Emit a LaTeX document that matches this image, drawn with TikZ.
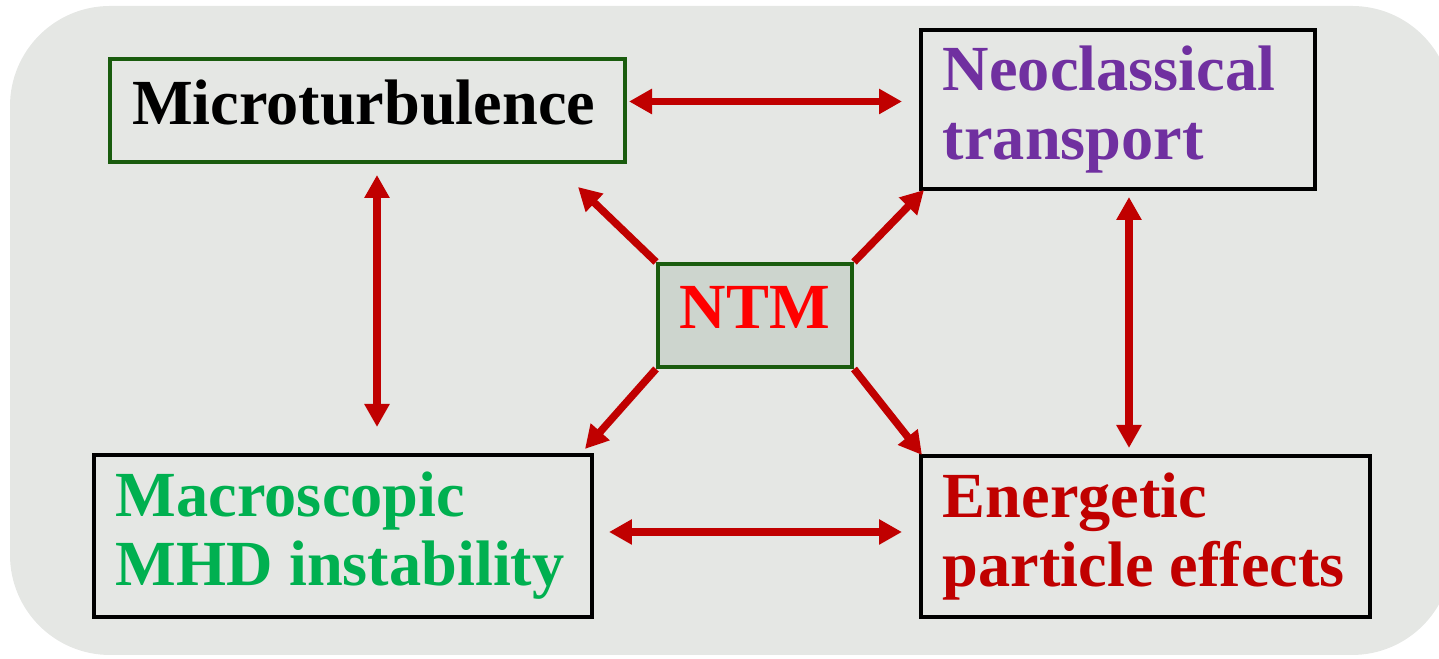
\documentclass[tikz,border=0pt]{standalone}
\usepackage{fontspec}
\setmainfont{Liberation Serif}
\usetikzlibrary{arrows.meta}

\definecolor{panelgray}{RGB}{229,231,228}
\definecolor{ntmgray}{RGB}{205,213,206}
\definecolor{boxgreen}{RGB}{26,92,14}
\definecolor{arrowred}{RGB}{192,0,0}
\definecolor{mhdgreen}{RGB}{0,176,80}
\definecolor{neopurple}{RGB}{112,48,160}

\begin{document}
\begin{tikzpicture}[
		box/.style={draw, line width=0.04cm, anchor=north west, inner xsep=0.22cm, inner ysep=0pt,
			align=flush left, font=\fontsize{18.3}{19.6}\selectfont\bfseries},
		link/.style={arrowred, line width=0.075cm, {Triangle[length=0.23cm,width=0.24cm]}-{Triangle[length=0.23cm,width=0.24cm]}},
		spoke/.style={arrowred, line width=0.075cm, -{Triangle[length=0.23cm,width=0.24cm]}}
	]
		\useasboundingbox (0,0) rectangle (14.39,6.59);
		\fill[panelgray, rounded corners=1cm] (0.10,0.04) rectangle (14.52,6.53);

		\node[box, draw=boxgreen, minimum width=5.15cm, minimum height=1.03cm, text width=4.71cm, text depth=0.17cm] (micro) at (1.08,6.02) {Microturbulence};
		\node[box, draw=black, minimum width=3.94cm, minimum height=1.59cm, text width=3.50cm, text=neopurple] (neo) at (9.19,6.31) {Neoclassical\\transport};
		\node[box, draw=black, minimum width=4.98cm, minimum height=1.62cm, text width=4.54cm, text=mhdgreen] (mhd) at (0.92,2.06) {Macroscopic\\MHD instability};
		\node[box, draw=black, minimum width=4.49cm, minimum height=1.61cm, text width=4.05cm, text=arrowred] (ener) at (9.19,2.05) {Energetic\\particle effects};
		\node[box, draw=boxgreen, fill=ntmgray, minimum width=1.94cm, minimum height=1.03cm, text width=1.50cm, align=center, text=red, text depth=0.17cm] (ntm) at (6.56,3.97) {NTM};

		% links between the four outer boxes
		\draw[link, shorten <=0.02cm, shorten >=0.17cm] ([yshift=0.09cm]micro.east) -- ([yshift=0.09cm]micro.east -| neo.west);
		\draw[link, shorten <=0.15cm, shorten >=0.17cm] ([yshift=0.04cm]mhd.east) -- ([yshift=0.04cm]mhd.east -| ener.west);
		\draw[link, shorten <=0.11cm, shorten >=0.26cm] ([xshift=0.095cm]micro.south) -- ([xshift=0.095cm]micro.south |- mhd.north);
		\draw[link, shorten <=0.06cm, shorten >=0.06cm] ([xshift=0.11cm]neo.south) -- ([xshift=0.11cm]neo.south |- ener.north);

		% spokes from NTM
		\foreach \c/\dx/\dy [count=\n] in {north west/-0.78/0.75, north east/0.70/0.72, south west/-0.71/-0.80, south east/0.68/-0.86} {
			\coordinate (tip\n) at ([shift={(\dx,\dy)}]ntm.\c);
			\draw[spoke] (ntm.\c) -- (tip\n);
		}
	\end{tikzpicture}
\end{document}
